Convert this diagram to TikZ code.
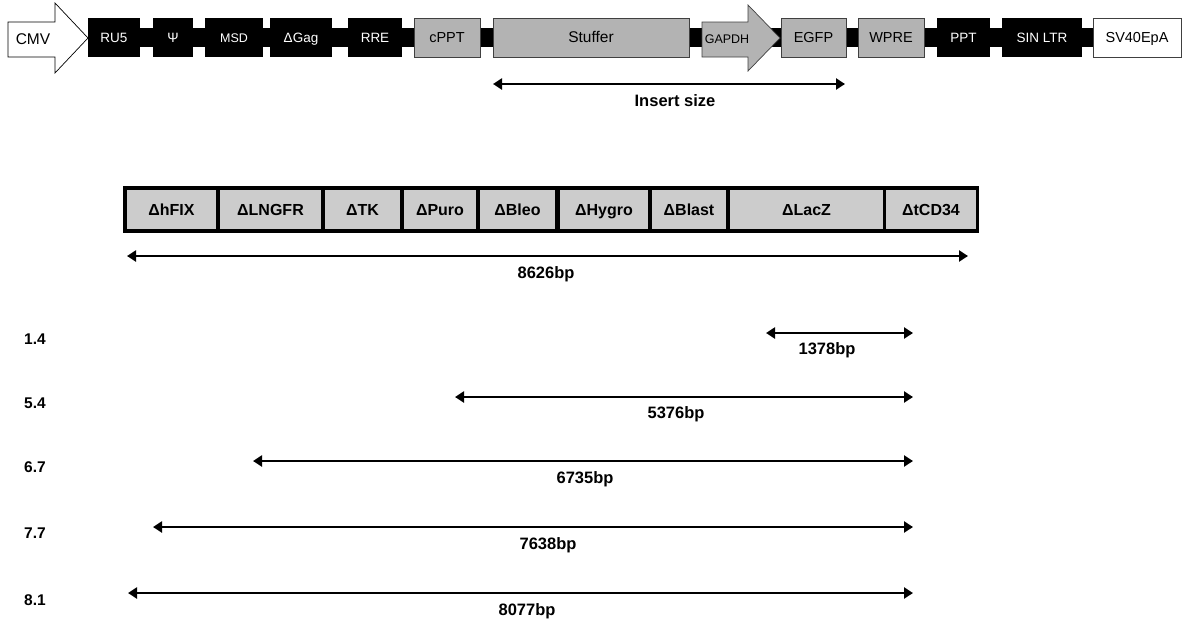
\documentclass[tikz,border=0pt]{standalone}
\usepackage{fontspec}
\setmainfont{Liberation Sans}
\usetikzlibrary{arrows.meta, positioning}
\definecolor{boxgrey}{HTML}{B3B3B3}
\definecolor{cellgrey}{HTML}{CCCCCC}

\begin{document}
\begin{tikzpicture}[
  x=1pt, y=-1pt,
  blk/.style={
    rectangle, fill=black, text=white, minimum height=39pt,
    inner sep=0pt, outer sep=0pt, text height=10pt, text depth=0pt,
    font=\fontsize{13.5}{15}\selectfont,
  },
  gry/.style={
    blk, draw=black!75, line width=0.7pt, fill=boxgrey, text=black,
    font=\fontsize{14.5}{16}\selectfont,
  },
  wht/.style={gry, fill=white},
  cell/.style={
    rectangle, draw=black, fill=cellgrey, line width=3.5pt,
    minimum height=43pt, inner sep=0pt, outer sep=0pt,
    text height=11pt, text depth=0pt,
    font=\bfseries\fontsize{16}{18}\selectfont,
  },
  span/.style={
    {Triangle[length=9pt,width=11pt]}-{Triangle[length=9pt,width=11pt]},
    line width=2.6pt,
  },
  spanlabel/.style={font=\bfseries\fontsize{16.5}{18}\selectfont, inner sep=0pt},
  rowlabel/.style={font=\bfseries\fontsize{15.5}{18}\selectfont, anchor=west, inner sep=0pt},
]
  \useasboundingbox (0,0) rectangle (1182,624);

  % Vector backbone
  \fill (88,28) rectangle (1093,47);

  % CMV promoter arrow
  \draw[fill=white, line width=0.7pt] (8,22) -- (55,22) -- (55,3) -- (88,38)
    -- (55,73) -- (55,57) -- (8,57) -- cycle;
  \node[font=\fontsize{15.5}{17}\selectfont] (cmv) at (33,39) {CMV};

  % Elements along the vector
  \node[blk, minimum width=52pt] (ru5) at (114,37.5) {RU5};
  \node[blk, minimum width=40pt] (psi) at (173,37.5) {Ψ};
  \node[blk, minimum width=58pt, font=\fontsize{12.5}{14}\selectfont] (msd) at (234,37.5) {MSD};
  \node[blk, minimum width=62pt] (gag) at (301,37.5) {ΔGag};
  \node[blk, minimum width=54pt] (rre) at (375,37.5) {RRE};
  \node[gry, minimum width=66pt] (cppt) at (447,37.5) {cPPT};
  \node[gry, minimum width=196pt, font=\fontsize{15.5}{17}\selectfont] (stuffer) at (591,37.5) {Stuffer};

  % GAPDH promoter arrow
  \draw[fill=boxgrey, draw=black!75, line width=0.7pt] (702,22) -- (748,22) -- (748,5)
    -- (780,38) -- (748,71) -- (748,57) -- (702,57) -- cycle;
  \node[font=\fontsize{12.5}{14}\selectfont] (gapdh) at (727,39) {GAPDH};

  \node[gry, minimum width=65pt] (egfp) at (813.5,37.5) {EGFP};
  \node[gry, minimum width=66pt] (wpre) at (891,37.5) {WPRE};
  \node[blk, minimum width=53pt] (ppt) at (963.5,37.5) {PPT};
  \node[blk, minimum width=80pt] (sinltr) at (1042,37.5) {SIN LTR};
  \node[wht, minimum width=88pt] (sv40) at (1137,37.5) {SV40EpA};

  % Insert size
  \coordinate (insl) at (493,84);
  \coordinate (insr) at (845,84);
  \draw[span] (insl) -- (insr);
  \node[spanlabel] (inslabel) at (675,101) {Insert size};

  % Stuffer fragments
  \node[cell, minimum width=93pt] (hfix) at (171.5,209.5) {ΔhFIX};
  \node[cell, minimum width=105pt] (lngfr) at (270.5,209.5) {ΔLNGFR};
  \node[cell, minimum width=79pt] (tk) at (362.5,209.5) {ΔTK};
  \node[cell, minimum width=76pt] (puro) at (440,209.5) {ΔPuro};
  \node[cell, minimum width=79pt] (bleo) at (517.5,209.5) {ΔBleo};
  \node[cell, minimum width=92pt] (hygro) at (604,209.5) {ΔHygro};
  \node[cell, minimum width=78pt] (blast) at (689,209.5) {ΔBlast};
  \node[cell, minimum width=157pt] (lacz) at (806.5,209.5) {ΔLacZ};
  \node[cell, minimum width=93pt] (tcd34) at (931,209.5) {ΔtCD34};

  % Full stuffer length
  \coordinate (fulll) at (127,256);
  \coordinate (fullr) at (968,256);
  \draw[span] (fulll) -- (fullr);
  \node[spanlabel] (fulllabel) at (546,274) {8626bp};

  % Insert sizes
  \node[rowlabel] (r14) at (24,339) {1.4};
  \coordinate (a14l) at (766,333);
  \coordinate (a14r) at (913,333);
  \draw[span] (a14l) -- (a14r);
  \node[spanlabel] (l14) at (827,350) {1378bp};

  \node[rowlabel] (r54) at (24,403) {5.4};
  \coordinate (a54l) at (455,397);
  \coordinate (a54r) at (913,397);
  \draw[span] (a54l) -- (a54r);
  \node[spanlabel] (l54) at (676,414) {5376bp};

  \node[rowlabel] (r67) at (24,467) {6.7};
  \coordinate (a67l) at (253,461);
  \coordinate (a67r) at (913,461);
  \draw[span] (a67l) -- (a67r);
  \node[spanlabel] (l67) at (585,479) {6735bp};

  \node[rowlabel] (r77) at (24,533) {7.7};
  \coordinate (a77l) at (153,527);
  \coordinate (a77r) at (913,527);
  \draw[span] (a77l) -- (a77r);
  \node[spanlabel] (l77) at (548,545) {7638bp};

  \node[rowlabel] (r81) at (24,600) {8.1};
  \coordinate (a81l) at (128,593);
  \coordinate (a81r) at (913,593);
  \draw[span] (a81l) -- (a81r);
  \node[spanlabel] (l81) at (527,611) {8077bp};

\end{tikzpicture}
\end{document}
